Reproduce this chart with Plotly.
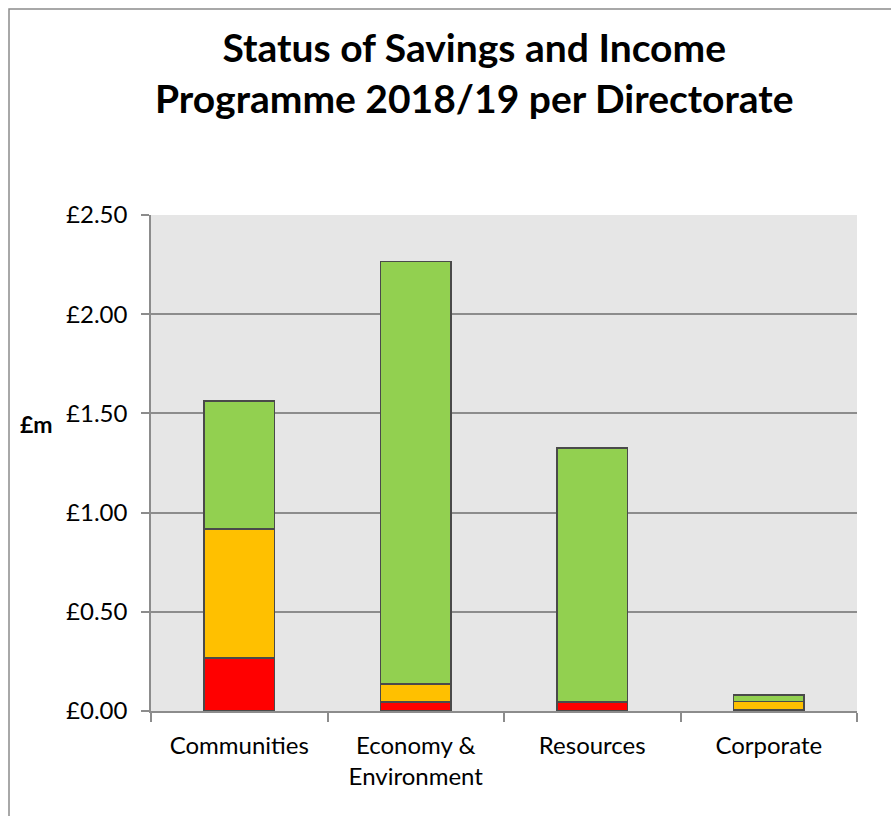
import plotly.graph_objects as go

# Savings and income programme 2018/19, £m per directorate by RAG status
directorates = ["Communities", "Economy & Environment", "Resources", "Corporate"]
red_values = [0.266, 0.045, 0.045, 0.005]
amber_values = [0.650, 0.090, 0.000, 0.042]
green_values = [0.647, 2.130, 1.282, 0.034]
y_ticks = [0.0, 0.5, 1.0, 1.5, 2.0, 2.5]
y_tick_labels = ["£0.00", "£0.50", "£1.00", "£1.50", "£2.00", "£2.50"]

FONT = "Lato, 'Open Sans', sans-serif"
OUTLINE = dict(color="#4a4a4a", width=1.6)

fig = go.Figure()
for name, vals, colour in [
    ("Red", red_values, "#ff0000"),
    ("Amber", amber_values, "#ffc000"),
    ("Green", green_values, "#92d050"),
]:
    fig.add_trace(go.Bar(
        x=directorates, y=vals, name=name,
        marker=dict(color=colour, line=OUTLINE),
        hoverinfo="x+y+name",
    ))

fig.update_layout(
    barmode="stack",
    bargap=0.6,
    width=891, height=816,
    margin=dict(l=151, r=34, t=215, b=105),
    paper_bgcolor="white",
    plot_bgcolor="#e6e6e6",
    showlegend=False,
    font=dict(family=FONT, color="#000000"),
    xaxis=dict(
        type="category",
        tickmode="array",
        tickvals=directorates,
        ticktext=[d.replace(" & ", " &<br>") for d in directorates],
        tickson="boundaries",
        ticks="outside", ticklen=9, tickcolor="#8c8c8c", tickwidth=1.5,
        showline=True, linecolor="#8c8c8c", linewidth=1.5,
        showgrid=False,
        tickfont=dict(size=24, family=FONT),
        ticklabelstandoff=12,
    ),
    yaxis=dict(
        range=[0, 2.5],
        tickmode="array", tickvals=y_ticks, ticktext=y_tick_labels,
        ticks="outside", ticklen=8, tickcolor="#8c8c8c", tickwidth=1.5,
        showline=True, linecolor="#8c8c8c", linewidth=1.5,
        showgrid=True, gridcolor="#8c8c8c", gridwidth=1.5,
        zeroline=False,
        tickfont=dict(size=24, family=FONT),
        ticklabelstandoff=9,
    ),
    annotations=[
        dict(
            text="<b>Status of Savings and Income<br>Programme 2018/19 per Directorate</b>",
            xref="paper", yref="paper",
            x=(474 - 151) / 706, y=1 + (215 - 72) / 496,
            xanchor="center", yanchor="middle",
            showarrow=False, align="center",
            font=dict(size=39, family=FONT),
        ),
        dict(
            text="<b>£m</b>",
            xref="paper", yref="paper",
            x=-(151 - 36) / 706, y=(711 - 424) / 496,
            xanchor="center", yanchor="middle",
            showarrow=False,
            font=dict(size=23, family=FONT),
        ),
    ],
    shapes=[
        dict(
            type="rect", xref="paper", yref="paper",
            x0=-(151 - 9) / 706, x1=1 + 60 / 706,
            y0=-200 / 496, y1=1 + (215 - 9) / 496,
            line=dict(color="#8c8c8c", width=1.5),
            fillcolor="rgba(0,0,0,0)", layer="below",
        ),
    ],
)

fig.write_html("out.html")
